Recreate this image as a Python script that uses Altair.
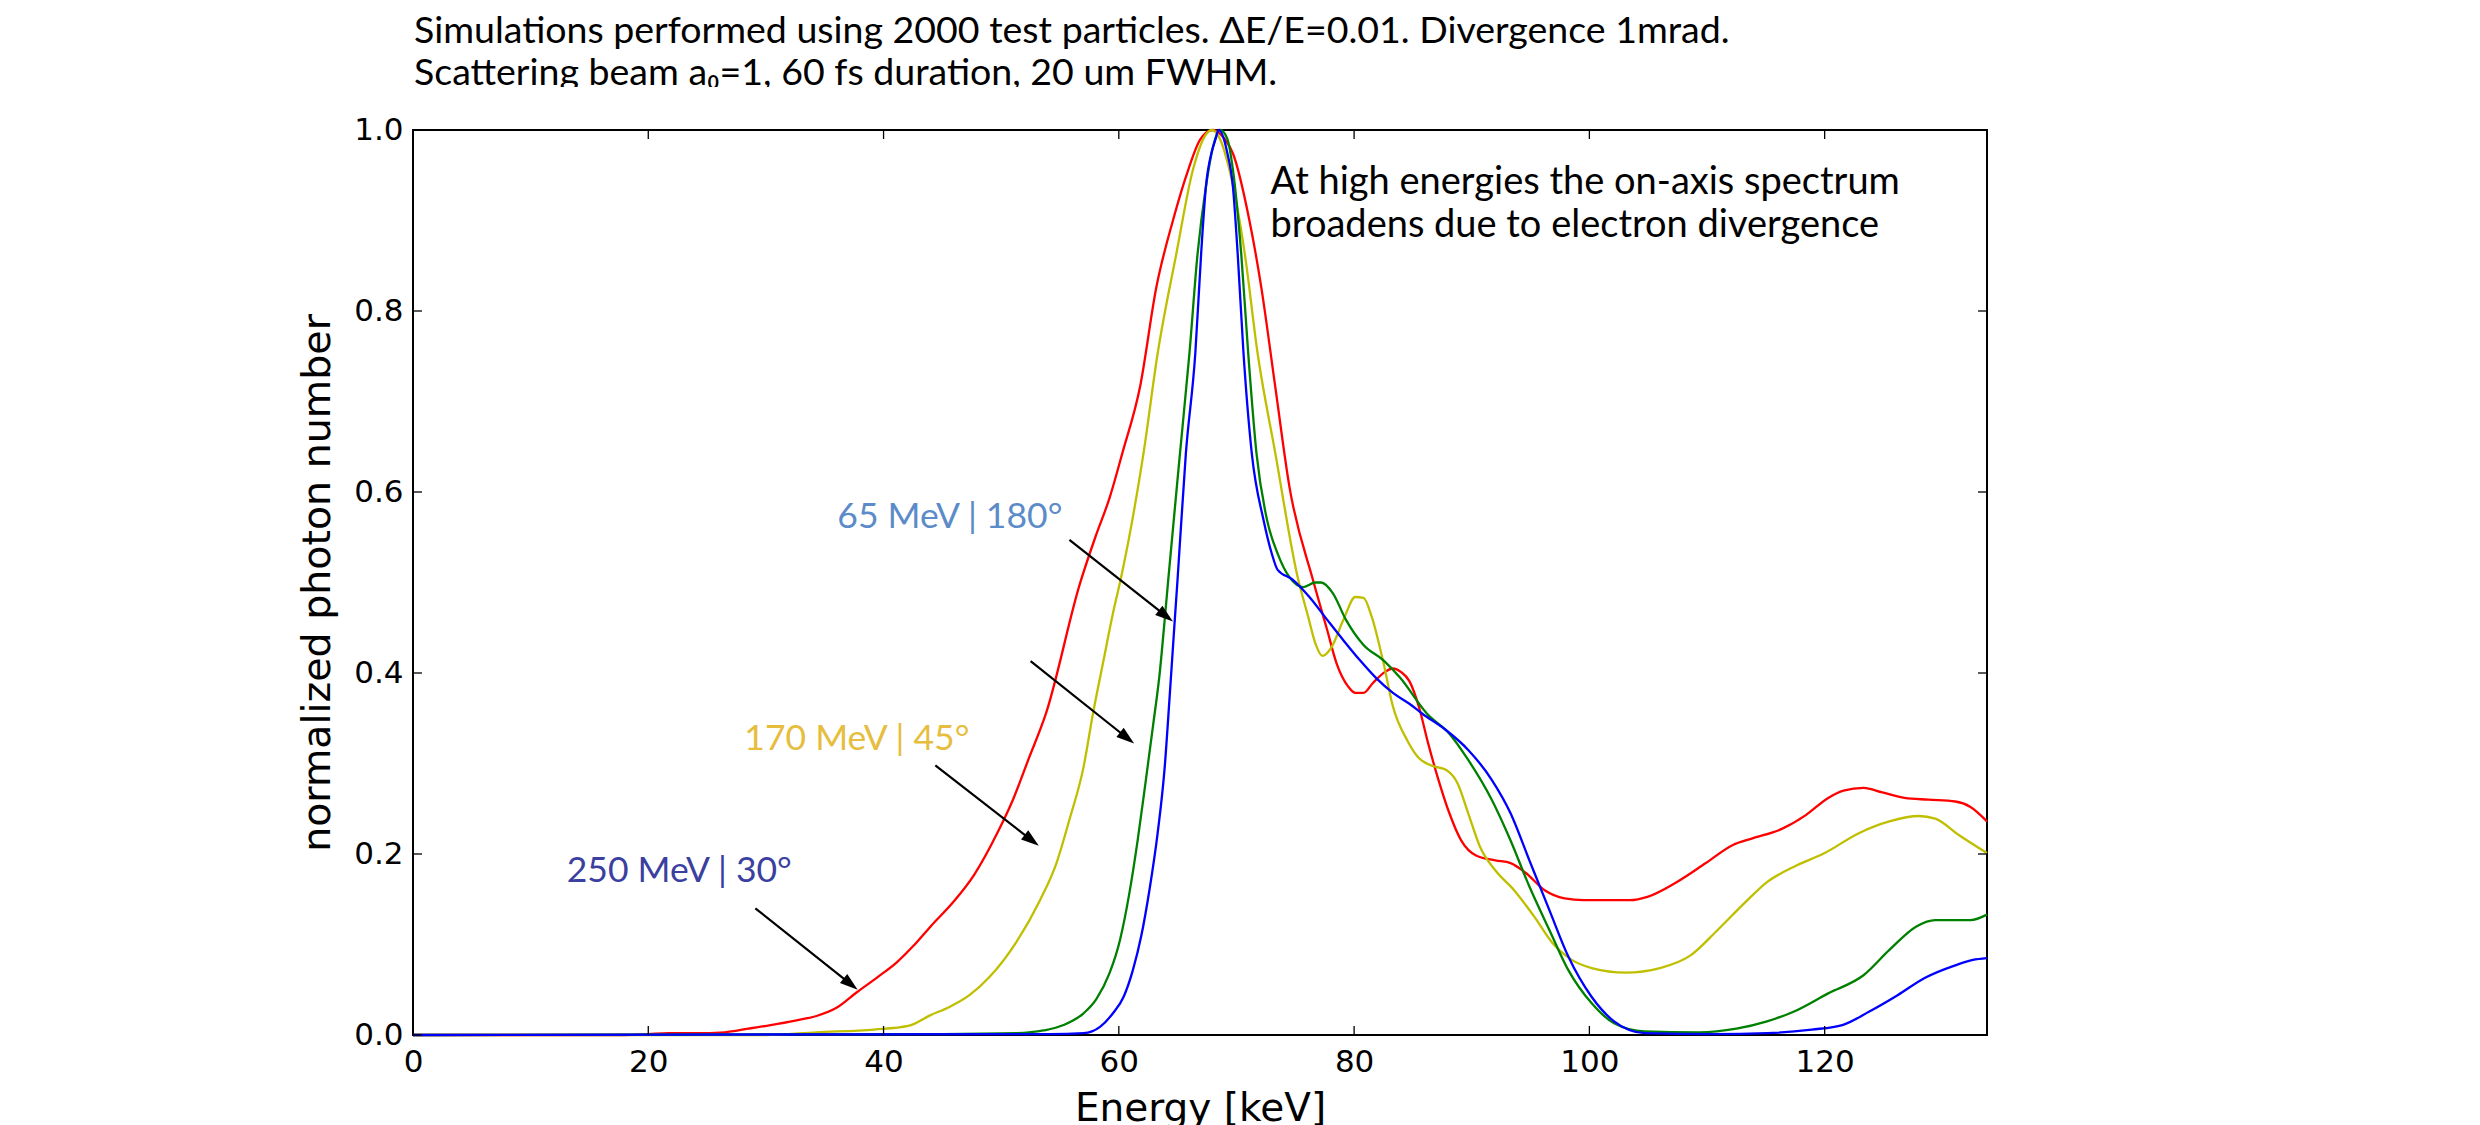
import math
import altair as alt
import pandas as pd

# ---------------- data ----------------
X_MAX = 133.8

red_x = [0, 18, 20, 21.7, 24, 26.5, 28.5, 30.4, 32.5, 34.3, 36, 37.7, 39.5, 41.1, 42.5, 44.0, 46, 47.7,
         49.7, 51, 52.3, 53.8, 56.7, 58, 59.2, 60.3, 61.8, 63.2, 64.6, 65.9, 66.9, 68.0, 69.0, 69.7,
         71.1, 72.1, 73.3, 74.5, 76.5, 77.7, 78.5, 79.5, 80.1, 80.8, 81.6, 82.6, 83.3, 84.0, 84.7,
         85.5, 86.3, 87.1, 88.1, 89.1, 90.4, 92.0, 93.3, 94.6, 96.2, 97.9, 99.5, 103.4, 105.0, 107.3,
         109.9, 112.2, 113.8, 116.4, 118.4, 120.3, 121.6, 123.3, 124.9, 126.8, 128.8, 131.1, 132.4, 133.8]
red_y = [0, 0, 0.001, 0.002, 0.002, 0.003, 0.007, 0.011, 0.016, 0.021, 0.030, 0.047, 0.064, 0.080, 0.098,
         0.12, 0.148, 0.177, 0.224, 0.26, 0.304, 0.355, 0.499, 0.55, 0.593, 0.643, 0.716, 0.827, 0.90,
         0.956, 0.989, 1.0, 0.99, 0.974, 0.90, 0.827, 0.716, 0.606, 0.503, 0.448, 0.411, 0.385, 0.378,
         0.378, 0.389, 0.401, 0.405, 0.401, 0.391, 0.363, 0.322, 0.285, 0.245, 0.215, 0.198, 0.193,
         0.19, 0.179, 0.160, 0.151, 0.149, 0.149, 0.153, 0.168, 0.19, 0.21, 0.217, 0.228, 0.243, 0.262,
         0.27, 0.273, 0.268, 0.262, 0.26, 0.258, 0.252, 0.236]

yel_x = [0, 30, 34.3, 39.2, 42.1, 44, 45.6, 47.3, 49.0, 51.3, 53.3, 54.7, 55.8, 57.0, 57.8, 58.7, 59.5,
         60.2, 62.1, 63.3, 64.9, 66.3, 67.4, 67.9, 68.6, 69.4, 70.7, 71.8, 73.3, 75.2, 76.1, 76.7, 77.3,
         78.1, 79.1, 80.1, 80.8, 81.5, 82.5, 83.3, 84.5, 85.5, 86.5, 87.8, 88.8, 89.7, 90.7, 92.0, 93.6,
         95.3, 96.9, 98.5, 100.2, 103.1, 106.0, 108.6, 110.9, 113.2, 115.1, 117.4, 120.0, 122.9, 125.5,
         128.0, 129.4, 131.4, 133.8]
yel_y = [0, 0, 0.003, 0.006, 0.01, 0.022, 0.031, 0.044, 0.064, 0.103, 0.149, 0.19, 0.238, 0.296, 0.355,
         0.414, 0.466, 0.506, 0.643, 0.753, 0.864, 0.956, 0.995, 1.0, 0.99, 0.956, 0.864, 0.753, 0.643,
         0.506, 0.462, 0.433, 0.419, 0.429, 0.459, 0.484, 0.483, 0.462, 0.411, 0.363, 0.326, 0.306,
         0.298, 0.293, 0.278, 0.245, 0.208, 0.182, 0.160, 0.131, 0.101, 0.083, 0.074, 0.069, 0.074,
         0.088, 0.116, 0.146, 0.169, 0.186, 0.201, 0.223, 0.236, 0.242, 0.239, 0.221, 0.201]

grn_x = [0, 45, 51.3, 53.6, 55.3, 57.0, 58.1, 59.2, 60.1, 60.9, 61.6, 62.3, 62.9, 63.5, 63.9, 64.2, 65.2,
         66.0, 66.7, 67.4, 68.0, 68.6, 69.2, 69.7, 70.4, 71.0, 71.7, 72.6, 73.5, 74.5, 75.7, 76.7, 77.2,
         78.2, 79.3, 80.8, 82.5, 83.9, 86.2, 88.1, 89.7, 91.7, 93.3, 94.9, 96.6, 98.2, 100.2, 102.1,
         104.7, 109.3, 112.5, 115.1, 117.4, 120.3, 123.3, 125.5, 127.8, 129.4, 132.4, 133.8]
grn_y = [0, 0.001, 0.002, 0.005, 0.011, 0.024, 0.04, 0.068, 0.105, 0.157, 0.215, 0.282, 0.341, 0.403,
         0.459, 0.503, 0.643, 0.753, 0.864, 0.937, 0.981, 1.0, 0.991, 0.956, 0.864, 0.753, 0.643, 0.569,
         0.532, 0.506, 0.495, 0.50, 0.50, 0.488, 0.459, 0.431, 0.414, 0.395, 0.355, 0.333, 0.304, 0.26,
         0.215, 0.164, 0.116, 0.072, 0.035, 0.013, 0.004, 0.003, 0.007, 0.015, 0.026, 0.046, 0.066,
         0.094, 0.12, 0.127, 0.127, 0.133]

blu_x = [0, 54.1, 57.0, 58.4, 59.5, 60.4, 61.2, 61.9, 62.6, 63.3, 63.9, 64.3, 64.7, 65.0, 65.7, 66.5,
         67.0, 67.4, 67.9, 68.2, 68.5, 69.2, 69.7, 70.1, 70.6, 71.3, 72.3, 73.0, 73.5, 74.8, 76.2, 77.7,
         79.1, 80.5, 81.9, 83.3, 84.7, 85.8, 87.8, 89.7, 91.7, 93.3, 94.9, 96.6, 98.2, 100.2, 102.1,
         104.7, 110.6, 115.1, 118.9, 121.5, 123.8, 126.2, 128.5, 131.1, 132.6, 133.8]
blu_y = [0, 0.001, 0.002, 0.009, 0.024, 0.042, 0.072, 0.109, 0.16, 0.223, 0.296, 0.37, 0.448, 0.505,
         0.643, 0.753, 0.864, 0.937, 0.976, 0.989, 1.0, 0.976, 0.937, 0.864, 0.753, 0.643, 0.569, 0.532,
         0.514, 0.503, 0.484, 0.459, 0.436, 0.414, 0.394, 0.378, 0.366, 0.355, 0.337, 0.315, 0.282,
         0.245, 0.193, 0.138, 0.087, 0.042, 0.015, 0.002, 0.001, 0.002, 0.006, 0.011, 0.026, 0.044,
         0.063, 0.077, 0.083, 0.085]

series = [
    ("red", red_x, red_y, "#ff0000"),
    ("yellow", yel_x, yel_y, "#bfbf00"),
    ("green", grn_x, grn_y, "#008000"),
    ("blue", blu_x, blu_y, "#0000ff"),
]

x_ticks = [0, 20, 40, 60, 80, 100, 120]
y_ticks = [0.0, 0.2, 0.4, 0.6, 0.8, 1.0]

label_text = ["65 MeV | 180°", "170 MeV | 45°", "250 MeV | 30°"]
label_x = [55.2, 47.3, 32.2]
label_y = [0.560, 0.315, 0.169]
label_color = ["#5b8bc8", "#e6bd3e", "#3b3fa0"]

note_text = ["At high energies the on-axis spectrum", "broadens due to electron divergence"]
note_x = [72.9, 72.9]
note_y = [0.929, 0.882]

title_lines = ["Simulations performed using 2000 test particles. \u0394E/E=0.01. Divergence 1mrad.",
               "Scattering beam a\u2080=1, 60 fs duration, 20 um FWHM."]

arrow_x0 = [55.8, 52.5, 44.4, 29.1]
arrow_y0 = [0.547, 0.413, 0.298, 0.140]
arrow_x1 = [64.6, 61.3, 53.2, 37.8]
arrow_y1 = [0.457, 0.322, 0.209, 0.050]

# ---------------- layout ----------------
W, H = 1574, 905
PX_PER_X = W / X_MAX
PX_PER_Y = H / 1.0
TEXT_FONT = "Lato"
AX_FONT = "DejaVu Sans"

xs = alt.Scale(domain=[0, X_MAX], nice=False, zero=False)
ys = alt.Scale(domain=[0, 1], nice=False, zero=False)

x_axis = alt.Axis(values=x_ticks, format="d", ticks=False, domain=False, grid=False,
                  labelPadding=12, labelFontSize=31, labelFont=AX_FONT, labelColor="black",
                  labelFlush=False, labelOverlap=False,
                  title="Energy [keV]", titleFont=AX_FONT, titleFontSize=39,
                  titleFontWeight="normal", titleColor="black", titlePadding=12)
y_axis = alt.Axis(values=y_ticks, format=".1f", ticks=False, domain=False, grid=False,
                  labelPadding=10, labelFontSize=31, labelFont=AX_FONT, labelColor="black",
                  labelFlush=False, labelOverlap=False,
                  title="normalized photon number", titleFont=AX_FONT, titleFontSize=39.5,
                  titleFontWeight="normal", titleColor="black", titlePadding=16)


def X(field):
    return alt.X(field, scale=xs, axis=x_axis)


def Y(field):
    return alt.Y(field, scale=ys, axis=y_axis)


layers = []

# curves
for name, sx, sy, col in series:
    df = pd.DataFrame({"x": sx, "y": sy})
    layers.append(alt.Chart(df).mark_line(color=col, strokeWidth=2.3, interpolate="monotone").encode(
        x=X("x:Q"), y=Y("y:Q")))

one = pd.DataFrame({"a": [0]})
# figure text above the plot, bottom of second line clipped by a white band
for t, py in zip(title_lines, [-87, -45]):
    layers.append(alt.Chart(one).mark_text(align="left", baseline="alphabetic", font=TEXT_FONT,
                                           fontSize=37.5, color="black", text=t).encode(
        x=alt.value(1), y=alt.value(py)))
layers.append(alt.Chart(one).mark_rect(color="white").encode(
    x=alt.value(0), x2=alt.value(W), y=alt.value(-43), y2=alt.value(-3)))

# inward ticks on all four sides
xt = pd.DataFrame({"x": x_ticks})
yt = pd.DataFrame({"y": y_ticks})
TL = 9
layers.append(alt.Chart(xt).mark_rule(color="black", strokeWidth=1.3).encode(
    x=X("x:Q"), y=alt.value(H), y2=alt.value(H - TL)))
layers.append(alt.Chart(xt).mark_rule(color="black", strokeWidth=1.3).encode(
    x=X("x:Q"), y=alt.value(0), y2=alt.value(TL)))
layers.append(alt.Chart(yt).mark_rule(color="black", strokeWidth=1.3).encode(
    y=Y("y:Q"), x=alt.value(0), x2=alt.value(TL)))
layers.append(alt.Chart(yt).mark_rule(color="black", strokeWidth=1.3).encode(
    y=Y("y:Q"), x=alt.value(W), x2=alt.value(W - TL)))

# arrows
HEAD_SIZE = 324  # custom symbol half-extent = sqrt(size)/2 = 9 px
half = math.sqrt(HEAD_SIZE) / 2
hx, hy, ang = [], [], []
for x0, y0, x1, y1 in zip(arrow_x0, arrow_y0, arrow_x1, arrow_y1):
    dxp = (x1 - x0) * PX_PER_X
    dyp = -(y1 - y0) * PX_PER_Y
    L = math.hypot(dxp, dyp)
    ux, uy = dxp / L, dyp / L
    hx.append(x1 - ux * half / PX_PER_X)
    hy.append(y1 + uy * half / PX_PER_Y)
    ang.append(math.degrees(math.atan2(ux, -uy)) % 360)
adf = pd.DataFrame({"x": arrow_x0, "y": arrow_y0, "hx": hx, "hy": hy, "ang": ang})
layers.append(alt.Chart(adf).mark_rule(color="black", strokeWidth=2.2).encode(
    x=X("x:Q"), y=Y("y:Q"), x2="hx:Q", y2="hy:Q"))
adf2 = pd.DataFrame({"x": hx, "y": hy, "ang": ang})
layers.append(alt.Chart(adf2).mark_point(shape="M0,-1L-0.65,1L0.65,1Z", filled=True, color="black",
                                         opacity=1, size=HEAD_SIZE, strokeWidth=0).encode(
    x=X("x:Q"), y=Y("y:Q"), angle=alt.Angle("ang:Q", scale=None)))

# coloured labels
ldf = pd.DataFrame({"x": label_x, "y": label_y, "t": label_text, "c": label_color})
layers.append(alt.Chart(ldf).mark_text(align="right", baseline="alphabetic", font=TEXT_FONT,
                                       fontSize=35.5).encode(
    x=X("x:Q"), y=Y("y:Q"), text="t:N", color=alt.Color("c:N", scale=None)))

# annotation
ndf = pd.DataFrame({"x": note_x, "y": note_y, "t": note_text})
layers.append(alt.Chart(ndf).mark_text(align="left", baseline="alphabetic", font=TEXT_FONT,
                                       fontSize=38, color="black").encode(
    x=X("x:Q"), y=Y("y:Q"), text="t:N"))

chart = alt.layer(*layers).properties(
    width=W, height=H,
    autosize=alt.AutoSizeParams(type="none"),
    padding={"left": 413, "top": 130, "right": 2480 - 413 - W, "bottom": 1125 - 130 - H},
    background="white",
).configure_view(stroke="black", strokeWidth=2)

chart.save("out.html", embed_options={"renderer": "svg", "actions": False})
